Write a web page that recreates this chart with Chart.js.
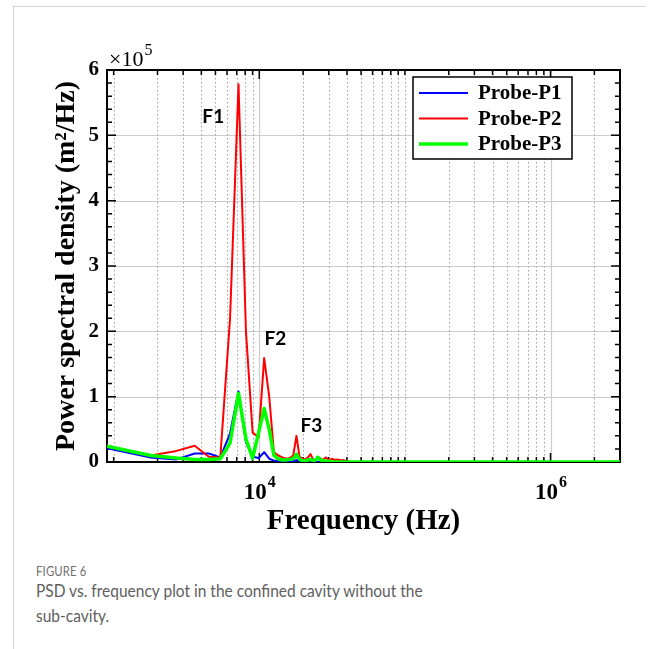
<!DOCTYPE html>
<html>
<head>
<meta charset="utf-8">
<title>PSD vs. frequency</title>
<script src="https://cdn.jsdelivr.net/npm/chart.js@4.4.0/dist/chart.umd.min.js"></script>
<style>
  html, body { margin: 0; padding: 0; background: #fff; }
  body { width: 656px; height: 649px; position: relative; overflow: hidden; }
  .card { position: absolute; left: 13px; top: 6px; width: 632px; height: 660px;
          border-left: 1px solid #d4d4d4; border-top: 1px solid #d4d4d4; }
  #chart_wrap { position: absolute; left: 0; top: 0; width: 656px; height: 560px; }
  .fig_label { position: absolute; left: 36px; top: 563px; font: 13px Lato, "Noto Sans", sans-serif;
               color: #707070; letter-spacing: 0.2px; transform: scaleX(0.87); transform-origin: left top; }
  .fig_caption { position: absolute; left: 36px; top: 579px; width: 620px; white-space: nowrap;
                 font: 16.5px/25px Lato, "Noto Sans", sans-serif; color: #606060;
                 transform: scaleX(0.94); transform-origin: left top; }
</style>
</head>
<body>
<div class="card"></div>
<div id="chart_wrap"><canvas id="psd_chart" width="656" height="560"></canvas></div>
<div class="fig_label">FIGURE 6</div>
<div class="fig_caption">PSD vs. frequency plot in the confined cavity without the<br>sub-cavity.</div>

<script>
"use strict";

// Frequency bins (Hz)
const freqs = [
  900, 1800, 2700, 3600, 4500, 5400, 6300, 7200, 8100, 9000,
  9900, 10800, 11700, 12600, 13500, 14400, 15300, 16200, 17100, 18000,
  18900, 19800, 20700, 21600, 22500, 23400, 24300, 25200, 26100, 27000,
  27900, 28800, 29700, 30600, 31500, 32400, 33300, 34200, 35100, 36000,
  36900, 37800, 38700, 39600, 45000, 90000, 900000, 3000000
];

// PSD values, in units of 1e5 m^2/Hz
const probeP1 = [
  0.21, 0.07, 0.04, 0.13, 0.13, 0.07, 0.44, 1.08, 0.30, 0.08,
  0.06, 0.15, 0.05, 0.02, 0.02, 0.01, 0.01, 0.01, 0.01, 0.03,
  0.01, 0.01, 0.00, 0.01, 0.00, 0.00, 0.00, 0.00, 0.00, 0.00,
  0.00, 0.00, 0.00, 0.00, 0.00, 0.00, 0.00, 0.00, 0.00, 0.00,
  0.00, 0.00, 0.00, 0.00, 0.00, 0.00, 0.00, 0.00
];
const probeP2 = [
  0.25, 0.10, 0.17, 0.25, 0.08, 0.07, 2.20, 5.78, 2.00, 0.45,
  0.38, 1.59, 1.00, 0.15, 0.10, 0.07, 0.05, 0.06, 0.10, 0.40,
  0.08, 0.05, 0.04, 0.07, 0.12, 0.04, 0.03, 0.08, 0.06, 0.03,
  0.05, 0.07, 0.04, 0.03, 0.05, 0.04, 0.03, 0.04, 0.03, 0.03,
  0.02, 0.03, 0.02, 0.01, 0.00, 0.00, 0.00, 0.00
];
const probeP3 = [
  0.24, 0.10, 0.06, 0.04, 0.04, 0.05, 0.29, 1.05, 0.35, 0.06,
  0.45, 0.82, 0.50, 0.10, 0.05, 0.03, 0.03, 0.04, 0.05, 0.12,
  0.04, 0.02, 0.02, 0.03, 0.04, 0.02, 0.03, 0.07, 0.04, 0.02,
  0.02, 0.01, 0.01, 0.01, 0.00, 0.00, 0.00, 0.00, 0.00, 0.00,
  0.00, 0.00, 0.00, 0.00, 0.00, 0.00, 0.00, 0.00
];

const seriesNames = ['Probe-P1', 'Probe-P2', 'Probe-P3'];
const seriesColors = ['#0000ff', '#ff0000', '#00ff00'];

// Axis ticks
const xMajorTicks = [10000, 1000000];
const xMinorTicks = [
  1000, 2000, 3000, 4000, 5000, 6000, 7000, 8000, 9000,
  20000, 30000, 40000, 50000, 60000, 70000, 80000, 90000, 100000,
  200000, 300000, 400000, 500000, 600000, 700000, 800000, 900000,
  2000000
];
const yMajorTicks = [0, 1, 2, 3, 4, 5, 6];
const yMinorTicks = [
  0.2, 0.4, 0.6, 0.8, 1.2, 1.4, 1.6, 1.8, 2.2, 2.4, 2.6, 2.8,
  3.2, 3.4, 3.6, 3.8, 4.2, 4.4, 4.6, 4.8, 5.2, 5.4, 5.6, 5.8
];

// Peak labels (anchored in data units)
const peakLabels = ['F1', 'F2', 'F3'];
const peakLabelFreqs = [4830, 12900, 22800];
const peakLabelVals = [5.29, 1.88, 0.55];

const SERIF = '"Liberation Serif", "Times New Roman", serif';


function _points(_vals) {
  return freqs.map(function(_f, _i) { return {x: _f, y: _vals[_i]}; });
}


// Grid, frame, inward ticks, legend and labels
const _decor = {
  id: 'psd_decor',

  beforeDatasetsDraw(chart) {
    const _ctx = chart.ctx;
    const _a = chart.chartArea;
    const _x = chart.scales.x;
    const _y = chart.scales.y;

    _ctx.save();

    // horizontal grid (solid)
    _ctx.strokeStyle = '#cccccc';
    _ctx.lineWidth = 1.2;
    yMajorTicks.forEach(function(_v) {
      const _py = Math.round(_y.getPixelForValue(_v)) + 0.5;
      _ctx.beginPath(); _ctx.moveTo(_a.left, _py); _ctx.lineTo(_a.right, _py); _ctx.stroke();
    });

    // vertical minor grid (dotted)
    _ctx.strokeStyle = '#a0a0a0';
    _ctx.lineWidth = 1;
    _ctx.setLineDash([1.5, 2.5]);
    xMinorTicks.forEach(function(_v) {
      const _px = Math.round(_x.getPixelForValue(_v)) + 0.5;
      _ctx.beginPath(); _ctx.moveTo(_px, _a.top); _ctx.lineTo(_px, _a.bottom); _ctx.stroke();
    });
    _ctx.setLineDash([]);

    // vertical major grid (solid)
    _ctx.strokeStyle = '#cccccc';
    _ctx.lineWidth = 1.2;
    xMajorTicks.forEach(function(_v) {
      const _px = Math.round(_x.getPixelForValue(_v)) + 0.5;
      _ctx.beginPath(); _ctx.moveTo(_px, _a.top); _ctx.lineTo(_px, _a.bottom); _ctx.stroke();
    });

    // frame
    _ctx.strokeStyle = '#000';
    _ctx.lineWidth = 2;
    _ctx.strokeRect(_a.left, _a.top, _a.right - _a.left, _a.bottom - _a.top);

    // inward ticks
    _ctx.lineWidth = 1.5;
    function _xTick(_v, _len) {
      const _px = _x.getPixelForValue(_v);
      _ctx.beginPath();
      _ctx.moveTo(_px, _a.bottom); _ctx.lineTo(_px, _a.bottom - _len);
      _ctx.moveTo(_px, _a.top); _ctx.lineTo(_px, _a.top + _len);
      _ctx.stroke();
    }
    function _yTick(_v, _len) {
      const _py = _y.getPixelForValue(_v);
      _ctx.beginPath();
      _ctx.moveTo(_a.left, _py); _ctx.lineTo(_a.left + _len, _py);
      _ctx.moveTo(_a.right, _py); _ctx.lineTo(_a.right - _len, _py);
      _ctx.stroke();
    }
    xMinorTicks.forEach(function(_v) { _xTick(_v, 5); });
    xMajorTicks.forEach(function(_v) { _xTick(_v, 9); });
    yMinorTicks.forEach(function(_v) { _yTick(_v, 5); });
    yMajorTicks.forEach(function(_v) { _yTick(_v, 9); });

    _ctx.restore();
  }, // EndOf beforeDatasetsDraw

  afterDraw(chart) {
    const _ctx = chart.ctx;
    const _a = chart.chartArea;
    const _x = chart.scales.x;
    const _y = chart.scales.y;

    _ctx.save();
    _ctx.fillStyle = '#000';
    _ctx.textBaseline = 'alphabetic';

    // x tick labels 10^n
    xMajorTicks.forEach(function(_v) {
      const _px = _x.getPixelForValue(_v);
      const _exp = String(Math.round(Math.log10(_v)));
      _ctx.font = 'bold 23px ' + SERIF;
      const _w1 = _ctx.measureText('10').width;
      _ctx.font = 'bold 16px ' + SERIF;
      const _w2 = _ctx.measureText(_exp).width;
      const _x0 = _px - (_w1 + _w2) / 2;
      _ctx.font = 'bold 23px ' + SERIF;
      _ctx.textAlign = 'left';
      _ctx.fillText('10', _x0, _a.bottom + 37);
      _ctx.font = 'bold 16px ' + SERIF;
      _ctx.fillText(_exp, _x0 + _w1 + 1, _a.bottom + 25);
    });

    // exponent factor above the y axis
    _ctx.textAlign = 'left';
    _ctx.font = '22px ' + SERIF;
    _ctx.fillText('\u00d710', _a.left + 2, _a.top - 4);
    const _wf = _ctx.measureText('\u00d710').width;
    _ctx.font = '16px ' + SERIF;
    _ctx.fillText('5', _a.left + 3 + _wf, _a.top - 15);

    // peak labels
    _ctx.font = 'bold 19px Lato, "Open Sans", sans-serif';
    _ctx.textAlign = 'center';
    _ctx.textBaseline = 'middle';
    peakLabels.forEach(function(_t, _i) {
      _ctx.fillText(_t, _x.getPixelForValue(peakLabelFreqs[_i]), _y.getPixelForValue(peakLabelVals[_i]));
    });

    // legend box
    const _lx = 413, _ly = 77, _lw = 159, _lh = 82;
    _ctx.fillStyle = '#fff';
    _ctx.fillRect(_lx, _ly, _lw, _lh);
    _ctx.strokeStyle = '#000';
    _ctx.lineWidth = 1.5;
    _ctx.strokeRect(_lx, _ly, _lw, _lh);
    _ctx.textAlign = 'left';
    _ctx.font = 'bold 21px ' + SERIF;
    chart.data.datasets.forEach(function(_ds, _i) {
      const _ry = _ly + 16 + _i * 25.5;
      _ctx.strokeStyle = _ds.borderColor;
      _ctx.lineWidth = _ds.borderWidth;
      _ctx.beginPath(); _ctx.moveTo(_lx + 6, _ry); _ctx.lineTo(_lx + 55, _ry); _ctx.stroke();
      _ctx.fillStyle = '#000';
      _ctx.fillText(_ds.label, _lx + 65, _ry + 1);
    });

    _ctx.restore();
  } // EndOf afterDraw
};


const _chart = new Chart(document.getElementById('psd_chart'), {
  type: 'line',
  data: {
    datasets: [
      { label: seriesNames[0], data: _points(probeP1), borderColor: seriesColors[0], borderWidth: 2, order: 3 },
      { label: seriesNames[1], data: _points(probeP2), borderColor: seriesColors[1], borderWidth: 2, order: 2 },
      { label: seriesNames[2], data: _points(probeP3), borderColor: seriesColors[2], borderWidth: 3.5, order: 1 }
    ]
  },
  options: {
    responsive: false,
    devicePixelRatio: 1,
    animation: false,
    elements: {
      point: { radius: 0 },
      line: { tension: 0, borderJoinStyle: 'round' }
    },
    layout: { padding: { left: 0, top: 70, right: 36, bottom: 0 } },
    plugins: {
      legend: { display: false },
      tooltip: { enabled: false }
    },
    scales: {
      x: {
        type: 'logarithmic',
        min: 900,
        max: 3000000,
        grid: { display: false },
        border: { display: false },
        ticks: { display: false },
        title: {
          display: true,
          text: 'Frequency (Hz)',
          color: '#000',
          font: { family: SERIF, weight: 'bold', size: 29 },
          padding: { top: 0, bottom: 21 }
        },
        afterFit: function(_s) { _s.height = 98; }
      },
      y: {
        type: 'linear',
        min: 0,
        max: 6,
        grid: { display: false, drawTicks: false },
        border: { display: false },
        ticks: {
          stepSize: 1,
          padding: 8,
          color: '#000',
          font: { family: SERIF, weight: 'bold', size: 21 }
        },
        title: {
          display: true,
          text: 'Power spectral density (m\u00b2/Hz)',
          color: '#000',
          font: { family: SERIF, weight: 'bold', size: 28 },
          padding: { top: 50, bottom: 0 }
        },
        afterFit: function(_s) { _s.width = 107; }
      }
    }
  },
  plugins: [_decor]
});
</script>
</body>
</html>
